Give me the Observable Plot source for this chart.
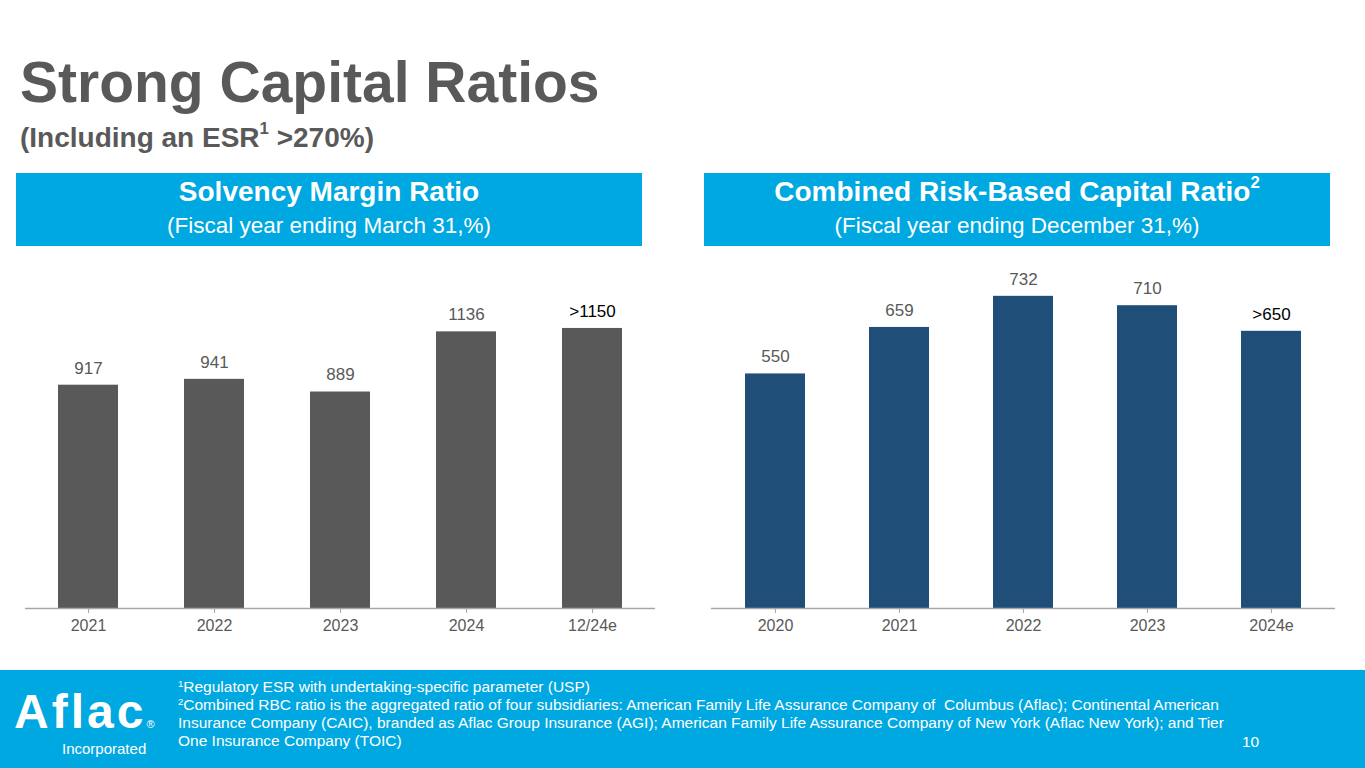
<!DOCTYPE html>
<html>
<head>
<meta charset="utf-8">
<script src="https://cdn.jsdelivr.net/npm/d3@7"></script>
<script src="https://cdn.jsdelivr.net/npm/@observablehq/plot@0.6"></script>
<style>
  html, body { margin: 0; padding: 0; background: #fff; }
  #slide { position: relative; width: 1365px; height: 768px; overflow: hidden; font-family: "Liberation Sans", Arial, sans-serif; background: #fff; }
  .abs { position: absolute; white-space: nowrap; }
  #title { left: 20px; top: 54px; font-size: 57px; line-height: 57px; font-weight: bold; color: #595959; }
  #subtitle { left: 20px; top: 124px; font-size: 28px; line-height: 28px; font-weight: bold; color: #595959; }
  #subtitle sup, .hdr sup { font-size: 0.6em; position: relative; top: -0.15em; vertical-align: top; line-height: 1; }
  .hdr { position: absolute; top: 173px; width: 626px; height: 73px; background: #00A8E1; color: #fff; text-align: center; white-space: nowrap; }
  .hdr .t { position: absolute; left: 0; right: 0; top: 5px; font-size: 28px; line-height: 28px; font-weight: bold; }
  .hdr .s { position: absolute; left: 0; right: 0; top: 42px; font-size: 22.5px; line-height: 22.5px; }
  #footer { position: absolute; left: 0; top: 670px; width: 1365px; height: 98px; background: #00A8E1; color: #fff; }
  #notes { position: absolute; left: 178px; top: 8px; font-size: 15.5px; line-height: 18px; white-space: nowrap; }
  #notes sup { font-size: 9.5px; vertical-align: top; line-height: 9px; position: relative; top: 1px; }
  #page { position: absolute; left: 1242px; top: 64px; font-size: 15.5px; line-height: 15.5px; }
  #logo { position: absolute; left: 14px; top: 22px; font-size: 48px; line-height: 40px; height: 40px; font-weight: bold; letter-spacing: 3px; white-space: nowrap; }
  #logo sup { font-size: 11px; vertical-align: baseline; letter-spacing: 0; font-weight: normal; }
  #inc { position: absolute; left: 62px; top: 71px; font-size: 15px; line-height: 15px; }
  .chart { position: absolute; top: 250px; }
</style>
</head>
<body>
<div id="slide">
  <div id="title" class="abs">Strong Capital Ratios</div>
  <div id="subtitle" class="abs">(Including an ESR<sup>1</sup> &gt;270%)</div>

  <div class="hdr" style="left:16px;">
    <div class="t">Solvency Margin Ratio</div>
    <div class="s">(Fiscal year ending March 31,%)</div>
  </div>
  <div class="hdr" style="left:704px;">
    <div class="t">Combined Risk-Based Capital Ratio<sup>2</sup></div>
    <div class="s">(Fiscal year ending December 31,%)</div>
  </div>

  <div id="leftChart" class="chart" style="left:25px;"></div>
  <div id="rightChart" class="chart" style="left:711px;"></div>

  <div id="footer">
    <div id="logo">Aflac<sup>®</sup></div>
    <div id="inc">Incorporated</div>
    <div id="notes">
      <sup>1</sup>Regulatory ESR with undertaking-specific parameter (USP)<br>
      <sup>2</sup>Combined RBC ratio is the aggregated ratio of four subsidiaries: American Family Life Assurance Company of &nbsp;Columbus (Aflac); Continental American<br>
      Insurance Company (CAIC), branded as Aflac Group Insurance (AGI); American Family Life Assurance Company of New York (Aflac New York); and Tier<br>
      One Insurance Company (TOIC)
    </div>
    <div id="page">10</div>
  </div>
</div>

<script>
// Solvency Margin Ratio (fiscal year ending March 31, %)
const smrYears = ["2021", "2022", "2023", "2024", "12/24e"];
const smrValues = [917, 941, 889, 1136, 1150];
const smrLabels = ["917", "941", "889", "1136", ">1150"];

// Combined Risk-Based Capital Ratio (fiscal year ending December 31, %)
const rbcYears = ["2020", "2021", "2022", "2023", "2024e"];
const rbcValues = [550, 659, 732, 710, 650];
const rbcLabels = ["550", "659", "732", "710", ">650"];

function barChart(years, values, labels, color, yMax, width) {
  const data = years.map((y, i) => ({
    year: y,
    value: values[i],
    label: labels[i],
    labelColor: labels[i].startsWith(">") ? "#000000" : "#595959"
  }));
  return Plot.plot({
    width: width,
    height: 400,
    marginTop: 10,
    marginBottom: 42,
    marginLeft: 0,
    marginRight: 0,
    style: { fontFamily: "'Liberation Sans', Arial, sans-serif", background: "transparent" },
    x: { domain: years, paddingInner: 0.52, paddingOuter: 0.26, label: null },
    y: { domain: [0, yMax], axis: null },
    marks: [
      Plot.barY(data, { x: "year", y: "value", fill: color }),
      Plot.ruleY([0], { stroke: "#A6A6A6", strokeWidth: 1.5 }),
      Plot.text(data, { x: "year", y: "value", text: "label", dy: -17, fontSize: 17, fill: "labelColor" }),
      Plot.axisX({ tickSize: 5, tickPadding: 6, fontSize: 16, stroke: "#A6A6A6", fill: "#595959", label: null })
    ]
  });
}

document.getElementById("leftChart").append(barChart(smrYears, smrValues, smrLabels, "#595959", 1429, 630));
document.getElementById("rightChart").append(barChart(rbcYears, rbcValues, rbcLabels, "#1F4E79", 816, 624));
</script>
</body>
</html>
